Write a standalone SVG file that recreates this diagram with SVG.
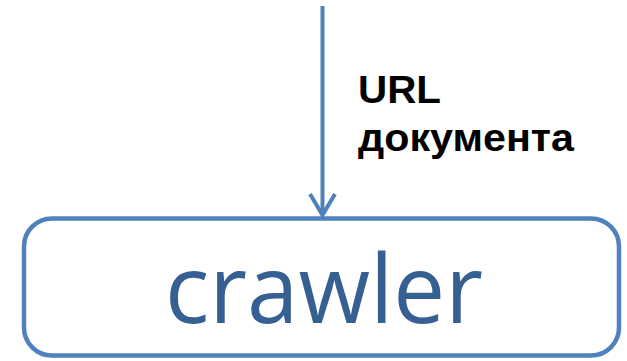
<svg xmlns="http://www.w3.org/2000/svg" width="627" height="361" viewBox="0 0 627 361">
<style>
.conn{stroke:#4f81bd;stroke-width:4;fill:none}
.lbl{font-family:"Liberation Sans",Arial,sans-serif;font-weight:bold;font-size:39px;fill:#000}
.box{fill:#fff;stroke:#4f81bd;stroke-width:4.5}
.name{font-family:"Open Sans","Liberation Sans",sans-serif;font-size:96px;fill:#376092}
</style>
<rect width="627" height="361" fill="#fff"/>
<g id="connectors">
<line class="conn" x1="322.5" y1="6" x2="322.5" y2="215"/>
<polyline class="conn" points="310,194 322.5,215 335,194"/>
<text class="lbl" x="358" y="103" textLength="83" lengthAdjust="spacingAndGlyphs">URL</text>
<text class="lbl" x="358" y="151" textLength="216" lengthAdjust="spacingAndGlyphs">документа</text>
</g>
<g id="crawler">
<rect class="box" x="24" y="218.5" width="595" height="137" rx="28" ry="28"/>
<text class="name" x="324" y="323" text-anchor="middle" textLength="318" lengthAdjust="spacingAndGlyphs">crawler</text>
</g>
</svg>
